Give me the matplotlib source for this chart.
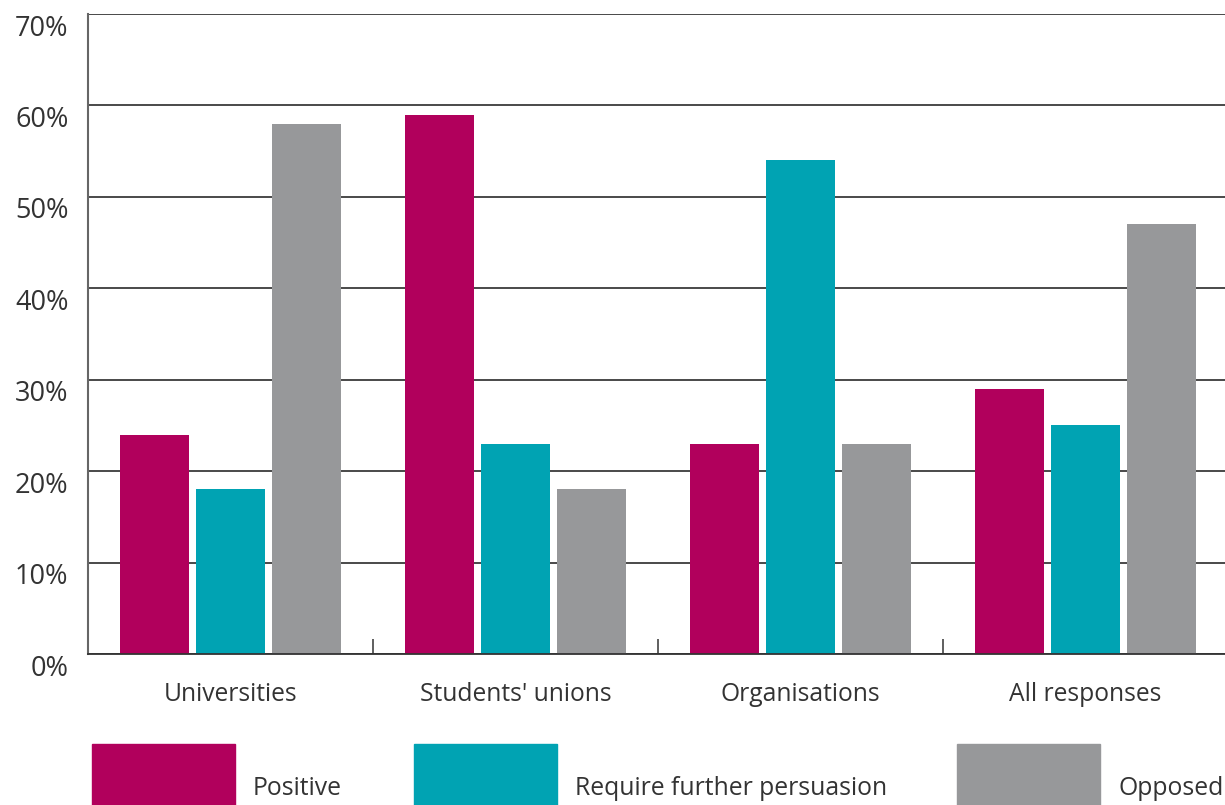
import matplotlib as mpl
mpl.use('Agg')
import matplotlib.pyplot as plt
from matplotlib.patches import Rectangle
from matplotlib.transforms import ScaledTranslation
import numpy as np

plt.rcParams['font.family'] = ['Open Sans', 'DejaVu Sans']

groups = ['Universities', "Students' unions", 'Organisations', 'All responses']
series = ['Positive', 'Require further persuasion', 'Opposed']
values = {
    'Positive': [24, 59, 23, 29],
    'Require further persuasion': [18, 23, 54, 25],
    'Opposed': [58, 18, 23, 47],
}
colors = ['#B1005C', '#00A3B3', '#97989A']
yticks = [0, 10, 20, 30, 40, 50, 60, 70]

W, H = 1225, 805
fig = plt.figure(figsize=(W / 100, H / 100), dpi=100)
left, right, bottom, top = 88, 1228, 654, 14
ax = fig.add_axes([left / W, (H - bottom) / H, (right - left) / W, (bottom - top) / H])

x = np.arange(len(groups))
step, width = 0.2667, 0.242
for i, (name, c) in enumerate(zip(series, colors)):
    ax.bar(x + (i - 1) * step, values[name], width=width, color=c, zorder=3)

ax.set_xlim(-0.5, len(groups) - 0.5)
ax.set_ylim(0, 70)
ax.set_yticks(yticks)
ax.set_yticklabels(['{}%'.format(v) for v in yticks], fontsize=19.5, color='#333333')
ax.yaxis.grid(True, color='#3a3a3a', linewidth=1.3, zorder=0)
ax.tick_params(axis='y', length=0, pad=14)
off = ScaledTranslation(0, -0.11, fig.dpi_scale_trans)
for lab in ax.get_yticklabels():
    lab.set_transform(lab.get_transform() + off)

ax.set_xticks(x)
ax.set_xticklabels(groups, fontsize=17.7, color='#333333')
ax.set_xticks(np.arange(-0.5, len(groups)), minor=True)
ax.tick_params(axis='x', which='major', length=0, pad=20)
ax.tick_params(axis='x', which='minor', direction='in', length=11,
               width=1.2, color='#444444')

for s in ['top', 'right']:
    ax.spines[s].set_visible(False)
ax.spines['left'].set_color('#666666')
ax.spines['left'].set_linewidth(1.5)
ax.spines['bottom'].set_color('#333333')
ax.spines['bottom'].set_linewidth(1.3)
ax.spines['bottom'].set_zorder(4)

# legend drawn by hand along the bottom
patch_x = [92, 414, 957]
for name, c, px in zip(series, colors, patch_x):
    fig.patches.append(Rectangle((px / W, 0), 143 / W, 61 / H, color=c,
                                 transform=fig.transFigure, figure=fig))
    fig.text((px + 161) / W, 10 / H, name, fontsize=17.8, color='#333333',
             ha='left', va='baseline')

fig.savefig('out.png', dpi=100)
